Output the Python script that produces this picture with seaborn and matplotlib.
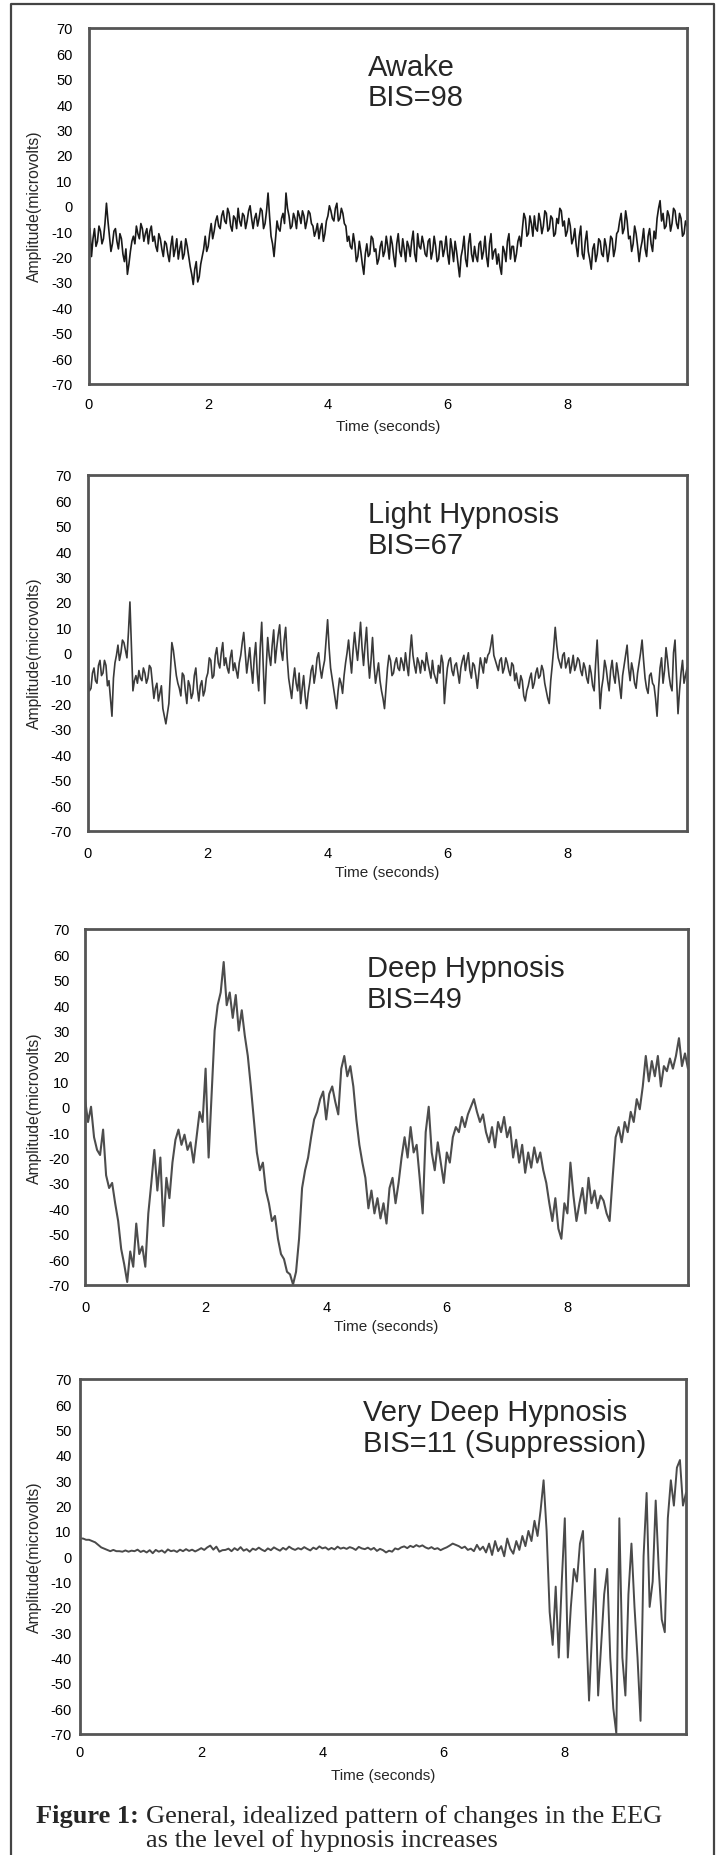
import numpy as np
import pandas as pd
import matplotlib
matplotlib.use("Agg")
import matplotlib.pyplot as plt
import seaborn as sns
from matplotlib.lines import Line2D

# ---------------- data ----------------
# Awake: sampled every ~0.025 s
awake = [-12, -9, -20, -13, -9, -16, -14, -8, -10, -15, -13, -7, 1, -6, -12, -18, -15, -10, -9, -14,
         -17, -11, -13, -19, -22, -17, -27, -23, -18, -14, -12, -15, -8, -11, -13, -7, -9, -14, -11, -9,
         -15, -10, -8, -14, -12, -16, -18, -11, -13, -17, -20, -14, -15, -19, -22, -16, -12, -20, -17, -13,
         -21, -17, -14, -21, -19, -13, -16, -20, -24, -27, -31, -25, -22, -30, -28, -23, -20, -17, -12, -18,
         -16, -11, -7, -13, -10, -6, -4, -8, -9, -4, -2, -6, -7, -1, -3, -8, -10, -4, -5, -9,
         -1, -6, -8, -3, -4, -9, -6, -2, 0, -5, -9, -5, -3, -8, -5, -1, -2, -9, -7, -2,
         5, -4, -12, -15, -20, -13, -6, -9, -10, -5, -3, -7, 5, -1, -4, -9, -8, -3, -5, -9,
         -2, -4, -7, -2, -4, -9, -6, -2, -3, -7, -8, -12, -10, -7, -13, -9, -7, -14, -11, -6,
         -4, 0, -2, -5, -6, -1, 1, -6, -5, -1, -3, -7, -8, -14, -12, -16, -17, -11, -15, -22,
         -20, -14, -18, -23, -27, -19, -15, -20, -19, -12, -13, -18, -17, -23, -21, -16, -14, -20, -18, -12,
         -16, -21, -12, -15, -20, -24, -15, -11, -18, -20, -13, -17, -22, -14, -16, -20, -14, -10, -19, -22,
         -11, -16, -17, -12, -15, -19, -20, -14, -13, -21, -18, -12, -16, -22, -21, -14, -14, -20, -17, -12,
         -19, -23, -13, -17, -22, -14, -18, -23, -28, -20, -17, -12, -21, -24, -15, -11, -19, -22, -16, -20,
         -22, -15, -14, -21, -18, -12, -20, -24, -15, -11, -21, -18, -17, -23, -19, -24, -27, -16, -18, -22,
         -14, -11, -21, -16, -16, -22, -19, -14, -12, -16, -9, -3, -5, -12, -11, -4, -7, -12, -4, -9,
         -10, -3, -6, -11, -8, -2, -3, -10, -9, -4, -5, -12, -11, -5, -7, -1, -2, -8, -6, -12,
         -10, -5, -8, -15, -13, -9, -16, -20, -12, -8, -19, -21, -14, -10, -18, -21, -25, -17, -15, -22,
         -19, -13, -14, -19, -20, -13, -16, -22, -18, -12, -13, -20, -17, -11, -10, -6, -3, -11, -9, -2,
         -6, -13, -12, -18, -15, -8, -11, -16, -22, -17, -14, -9, -17, -20, -12, -9, -15, -18, -10, -13,
         -5, -1, 2, -6, -3, -9, -8, -2, -4, -10, -7, -1, -2, -7, -9, -3, -5, -12, -11, -6, -8]

# Light hypnosis: sampled every ~0.025 s
light = [-10, -15, -14, -8, -6, -11, -12, -5, -3, -9, -8, -3, -5, -13, -11, -18, -25, -10, -4, -1,
         3, -3, 0, 5, 4, 1, -2, 8, 20, 2, -15, -11, -9, -12, -7, -10, -11, -6, -8, -12,
         -10, -5, -6, -12, -18, -14, -12, -19, -16, -13, -22, -25, -28, -24, -20, -8, 4, 1, -4, -9,
         -12, -14, -17, -8, -9, -15, -20, -11, -13, -18, -16, -9, -6, -14, -19, -13, -11, -17, -15, -10,
         -8, -2, -3, -10, -9, -1, 2, -4, -6, 0, 4, -5, -2, -6, -8, -2, 1, -7, -4, -7,
         -10, -4, -1, 4, 8, 0, -8, -3, 2, -6, -12, -2, 4, -8, -15, 2, 12, -5, -20, -6,
         6, -1, -5, 3, 9, -4, 2, 7, 11, 1, -3, 5, 10, -2, -10, -14, -18, -11, -6, -12,
         -15, -8, -20, -14, -9, -17, -22, -16, -12, -7, -5, -12, -8, -2, 0, -6, -10, -6, -3, 5,
         13, 2, -6, -10, -14, -18, -22, -15, -10, -12, -16, -9, -4, 0, 5, -2, -8, 1, 8, 2,
         -3, 4, 12, 2, -5, 3, 10, -2, -10, -3, 6, -5, -12, -8, -4, -11, -15, -18, -22, -14,
         -6, -1, -3, -9, -8, -4, -2, -6, -7, -2, -4, -7, 0, -5, -9, 0, 7, -1, -5, -8,
         -2, -4, -8, -3, -4, -7, 0, -4, -7, -10, -3, -8, -10, -12, -5, -8, -1, -4, -20, -12,
         -6, -3, -2, -7, -9, -5, -4, -8, -12, -6, -3, -1, -7, -3, 0, -7, -10, -4, -5, -9,
         -14, -8, -2, -5, -8, -2, -4, -1, 0, 3, 7, -1, -3, -5, -7, -3, -2, -8, -6, -2,
         -4, -7, -9, -4, -5, -11, -8, -12, -14, -9, -11, -17, -19, -15, -13, -10, -8, -14, -12, -8,
         -6, -10, -9, -5, -7, -12, -15, -18, -20, -11, -5, 2, 10, 3, -2, -4, -6, -1, 0, -6,
         -4, -2, -8, -5, -1, -7, -5, -2, -3, -7, -9, -4, -6, -10, -12, -5, -8, -13, -15, -4,
         5, -8, -22, -14, -10, -3, -6, -11, -15, -7, -3, -9, -12, -4, -8, -13, -18, -9, -5, -1,
         3, -6, -11, -4, -7, -12, -14, -8, -4, 0, 5, -3, -10, -14, -16, -9, -8, -12, -13, -18,
         -25, -14, -6, -2, -12, -7, 2, -3, -9, -13, -15, 0, 5, -10, -24, -15, -8, -3, -12, -9, -6]

# Deep hypnosis: sampled every 0.05 s
deep = [3, -6, 0, -12, -17, -19, -9, -27, -32, -30,
        -38, -45, -56, -62, -69, -57, -63, -46, -58, -55,
        -63, -42, -30, -17, -33, -20, -47, -28, -36, -22,
        -13, -9, -15, -11, -17, -14, -22, -12, -2, -6,
        15, -20, 5, 30, 40, 45, 57, 40, 45, 35,
        44, 30, 38, 28, 20, 8, -5, -18, -25, -22,
        -33, -38, -45, -43, -52, -58, -60, -65, -66, -70,
        -65, -52, -32, -25, -20, -12, -5, -2, 3, 6,
        -5, 5, 8, 2, -3, 15, 20, 12, 16, 8,
        -5, -15, -22, -28, -40, -33, -42, -36, -44, -38,
        -46, -32, -28, -38, -30, -20, -12, -20, -8, -18,
        -15, -28, -42, -10, 0, -18, -25, -14, -22, -30,
        -18, -22, -12, -8, -10, -4, -8, -3, 0, 3,
        -2, -6, -3, -10, -14, -8, -16, -6, -10, -4,
        -12, -8, -20, -13, -22, -15, -26, -18, -24, -16,
        -22, -18, -25, -30, -38, -45, -36, -48, -52, -38,
        -42, -22, -35, -45, -38, -32, -42, -28, -38, -33,
        -40, -35, -37, -42, -45, -28, -12, -8, -14, -6,
        -10, -2, -6, 3, -1, 8, 20, 10, 18, 12,
        20, 8, 16, 14, 19, 15, 20, 27, 16, 21, 15]

# Very deep hypnosis (suppression): sampled every 0.05 s
very_deep = [7, 7, 6.5, 6.5, 6, 5.5, 4.5, 3.5, 3, 2.5, 2, 2.5, 2,
             2, 1.8, 2.3, 1.8, 2.2, 2, 2.6, 1.7, 2.2, 1.5, 2.4, 1.2, 2.5, 1.8, 2.3,
             1.4, 2.7, 2, 2.3, 1.7, 2.6, 2, 2.8, 2.1, 2.6, 1.9, 2.5, 3.2,
             2.5, 3.5, 4.2, 2.6, 3.8, 1.8, 2.4,
             2.5, 3, 2, 3.2, 2.4, 3.6, 2.2, 2.8, 1.8, 3, 2.5, 3.4, 2.6, 2, 3.1, 2.4,
             3.5, 2.8, 2.2, 3.3, 2.6, 3.8, 3, 2.5, 3.2, 2.7, 3.6, 2.9, 2.3, 3.4, 2.8,
             3.9, 3.1, 3.5, 2.6, 3.3, 2.7, 3.8, 3, 3.4, 2.9, 3.6, 3.2, 2.5, 3.7, 3.1,
             2.8, 3.4, 2.6, 3.3, 2.1, 2.9, 2.4, 1.5, 2.2, 1.8, 3.1, 2.7, 3.5, 3.9, 3.2,
             4.1, 3.6, 4.4, 3.8, 4.3, 3.5, 3, 3.6, 2.8, 3.2, 2.4, 3.0,
             3.5, 4.2, 5, 4.5, 4, 3.2, 3.8, 2.5, 3, 2, 4.5, 2.5, 3.8, 1.5,
             5, 0.5, 6, 2, 4, 0, 7, 3, 1, 6, 2.5, 8,
             4, 10, 6, 14, 8, 18,
             30, 10, -22, -35, -12, -40, -10, 15, -40, -20, -5, -10, 5, 10,
             -25, -57, -30, -5, -55, -35, -15, -5, -40, -60, -70, 15, -40,
             -55, -15, 5, -20, -40, -65, 0, 25, -20, -10, 22, -5, -25, -30,
             15, 30, 20, 35, 38, 20, 25]

panel_titles = ["Awake", "Light Hypnosis", "Deep Hypnosis", "Very Deep Hypnosis"]
panel_bis = ["BIS=98", "BIS=67", "BIS=49", "BIS=11 (Suppression)"]
series = [awake, light, deep, very_deep]
x_ticks = [0, 2, 4, 6, 8]
y_ticks = list(range(-70, 71, 10))
x_label = "Time (seconds)"
y_label = "Amplitude(microvolts)"
caption_bold = "Figure 1:"
caption_line1 = "General, idealized pattern of changes in the EEG"
caption_line2 = "as the level of hypnosis increases"

# ---------------- styling / layout ----------------
sns.set_style("white")
plt.rcParams["font.family"] = ["Liberation Sans", "DejaVu Sans"]
plt.rcParams["axes.unicode_minus"] = False

W, H = 718, 1856
DPI = 100
fig = plt.figure(figsize=(W / DPI, H / DPI), dpi=DPI)
fig.patch.set_facecolor("white")

# axes boxes in pixels: left, right, top, bottom
boxes = [(88.5, 687, 29, 384.5),
         (88.0, 687, 476, 831.5),
         (85.0, 688, 930, 1285.5),
         (80.0, 686, 1380, 1734.5)]
line_colors = ["#1a1a1a", "#3a3a3a", "#4d4d4d", "#4a4a4a"]
line_widths = [1.2, 1.2, 1.5, 1.4]
ytick_pads = [9.5, 9.5, 9.0, 4.0]
xtick_pads = [8.0, 9.5, 9.5, 6.5]
title_y = [(54.6, 42.8), (54.5, 42.3), (54.6, 42.5), (56.9, 44.9)]

for k in range(4):
    l, r, t, b = boxes[k]
    ax = fig.add_axes([l / W, 1 - b / H, (r - l) / W, (b - t) / H])
    vals = series[k]
    df = pd.DataFrame({"time": np.linspace(0, 10, len(vals)), "amp": vals})
    sns.lineplot(data=df, x="time", y="amp", ax=ax, color=line_colors[k],
                 linewidth=line_widths[k], estimator=None, sort=False)
    ax.set_xlim(0, 10)
    ax.set_ylim(-70, 70)
    ax.set_xticks(x_ticks)
    ax.set_yticks(y_ticks)
    ax.tick_params(axis="both", direction="inout", length=4, width=1.0,
                   color="#666666", labelsize=10.5, labelcolor="black")
    ax.tick_params(axis="y", pad=ytick_pads[k])
    ax.tick_params(axis="x", pad=xtick_pads[k])
    for sp in ax.spines.values():
        sp.set_visible(True)
        sp.set_color("#555555")
        sp.set_linewidth(2.0)
    ax.set_xlabel(x_label, fontsize=11)
    ax.set_ylabel(y_label, fontsize=11.3)
    hpx = b - t
    wpx = r - l
    ax.xaxis.set_label_coords(0.5, -35.0 / hpx)
    ax.yaxis.set_label_coords((41.5 - l) / wpx, 0.5)
    ax.text(4.67, title_y[k][0], panel_titles[k], fontsize=21, ha="left", va="center")
    ax.text(4.67, title_y[k][1], panel_bis[k], fontsize=21, ha="left", va="center")

# outer frame (left, top, right edges; the bottom edge lies outside the image)
fx = [11 / W, 11 / W, 713.5 / W, 713.5 / W]
fy = [0.0, 1 - 5 / H, 1 - 5 / H, 0.0]
fig.add_artist(Line2D(fx, fy, transform=fig.transFigure, color="#444444", linewidth=1.6))

# caption
serif = ["Liberation Serif", "DejaVu Serif"]
fig.text(36 / W, 1 - 1823 / H, caption_bold, fontsize=19, fontweight="bold",
         family=serif, ha="left", va="baseline")
fig.text(146 / W, 1 - 1823 / H, caption_line1, fontsize=19,
         family=serif, ha="left", va="baseline")
fig.text(146 / W, 1 - 1847 / H, caption_line2, fontsize=19,
         family=serif, ha="left", va="baseline")

fig.savefig("out.png", dpi=DPI)
